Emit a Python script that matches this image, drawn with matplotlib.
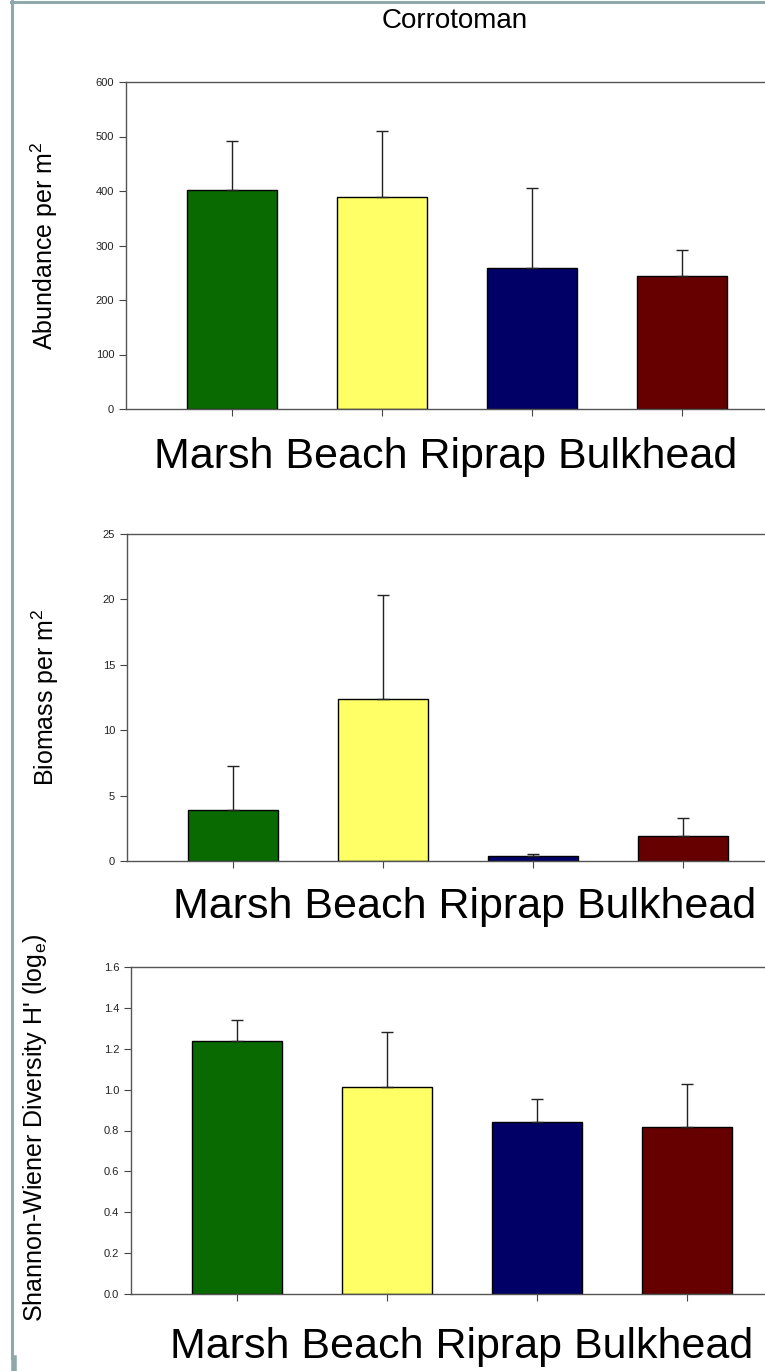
import matplotlib
matplotlib.use("Agg")
import matplotlib.pyplot as plt
from matplotlib.lines import Line2D
import numpy as np

plt.rcParams['font.family'] = ['Liberation Sans', 'DejaVu Sans']

# data
sites = ["Marsh", "Beach", "Riprap", "Bulkhead"]
bar_colors = ["#0a6a02", "#ffff66", "#000066", "#660000"]

abundance = [401, 389, 259, 244]
abundance_err = [91, 122, 146, 48]

biomass = [3.9, 12.4, 0.4, 1.9]
biomass_err = [3.4, 7.9, 0.15, 1.4]

diversity = [1.24, 1.013, 0.844, 0.817]
diversity_err = [0.10, 0.268, 0.112, 0.209]

W, H = 765, 1371
fig = plt.figure(figsize=(W / 100, H / 100), dpi=100)


def px_axes(left, top, bottom, width=662):
    return fig.add_axes([left / W, 1 - bottom / H, width / W, (bottom - top) / H])


def bar_panel(ax, vals, errs, ymax, ystep, fmt):
    x = np.arange(len(sites))
    ax.bar(x, vals, width=0.6, color=bar_colors, edgecolor="black", linewidth=1.0, zorder=2)
    ax.errorbar(x, vals, yerr=[np.zeros(len(errs)), errs], fmt="none", ecolor="#222222",
                elinewidth=1.0, capsize=4.5, capthick=1.0, zorder=3)
    ax.set_xlim(-0.707, 3.707)
    ax.set_ylim(0, ymax)
    ticks = np.arange(0, ymax + ystep / 2, ystep)
    ax.set_yticks(ticks)
    ax.set_yticklabels([fmt % v for v in ticks])
    ax.set_xticks(x)
    ax.set_xticklabels([])
    ax.tick_params(axis="both", direction="out", length=5, width=0.8, colors="#444444",
                   labelsize=8, labelcolor="#222222")
    for s in ["left", "bottom", "top"]:
        ax.spines[s].set_color("#555555")
        ax.spines[s].set_linewidth(1.0)
    ax.spines["right"].set_visible(False)


ax1 = px_axes(126, 82, 409)
bar_panel(ax1, abundance, abundance_err, 600, 100, "%d")
ax2 = px_axes(127, 534, 861)
bar_panel(ax2, biomass, biomass_err, 25, 5, "%d")
ax3 = px_axes(131, 967, 1294)
bar_panel(ax3, diversity, diversity_err, 1.6, 0.2, "%.1f")

# y labels
fig.text(44 / W, 1 - 246 / H, r"Abundance per m$^{\mathregular{2}}$", rotation=90,
         ha="center", va="center", fontsize=18)
fig.text(45 / W, 1 - 697 / H, r"Biomass per m$^{\mathregular{2}}$", rotation=90,
         ha="center", va="center", fontsize=18)
fig.text(35 / W, 1 - 1128 / H, r"Shannon-Wiener Diversity H' (log$_{\mathregular{e}}$)",
         rotation=90, ha="center", va="center", fontsize=18)

# category captions
caption = " ".join(sites)
fig.text(446 / W, 1 - 457 / H, caption, ha="center", va="center", fontsize=31)
fig.text(465 / W, 1 - 907 / H, caption, ha="center", va="center", fontsize=31)
fig.text(462 / W, 1 - 1347 / H, caption, ha="center", va="center", fontsize=31)

fig.text(455 / W, 1 - 21 / H, "Corrotoman", ha="center", va="center", fontsize=20)

# slide border
border = "#8fa9ab"
fig.add_artist(Line2D([12 / W, 12 / W], [13 / H, 1 - 1 / H], color=border, lw=2.2))
fig.add_artist(Line2D([11 / W, 1], [1 - 1.5 / H, 1 - 1.5 / H], color=border, lw=2.2))
fig.add_artist(Line2D([13.5 / W, 13.5 / W], [0, 13 / H], color=border, lw=4))

fig.savefig("out.png", dpi=100)
